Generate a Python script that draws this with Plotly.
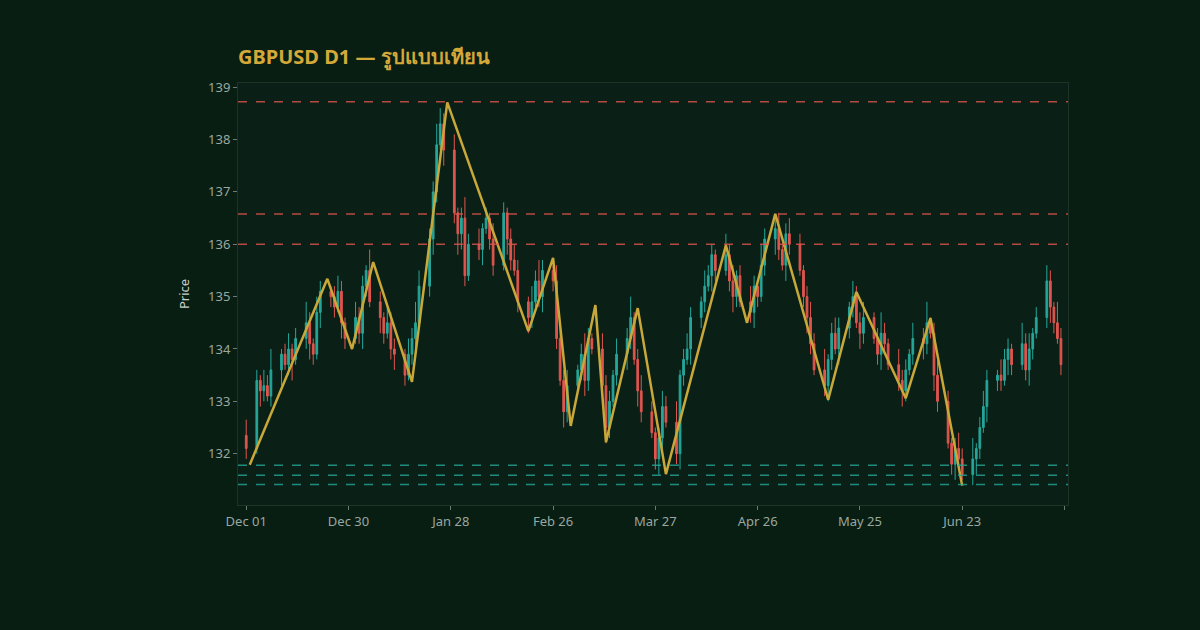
import plotly.graph_objects as go
import pandas as pd

closes = [132.1,
133.4,133.2,133.3,133.1,133.6, 133.9,133.7,134.0,133.8,134.2, 134.5,134.1,133.9,134.7,135.1,
135.0,134.8,135.1,134.5,134.2, 134.6,134.3,135.2,135.5,134.9, 134.6,134.3,134.5,134.0,133.9,
133.5,133.9,134.2,134.5,135.2, 136.1,137.0,137.9,138.3,137.8, 136.6,136.2,136.5,135.4,136.0,
135.9,136.3,136.5,136.1,135.6, 136.6,136.1,135.7,135.5,134.9, 134.6,134.9,135.3,135.0,135.5,
135.3,134.2,133.4,132.8,133.3, 133.6,133.9,133.4,134.2,134.0, 133.3,132.5,133.0,133.5,133.9,
134.2,134.6,133.8,133.2,132.8, 132.4,131.9,132.3,132.9,132.6, 132.0,133.5,133.8,134.0,134.6,
134.9,135.2,135.4,135.8,135.5, 135.8,135.3,135.0,135.4,134.9, 134.7,135.2,135.0,135.6,136.1,
136.3,135.9,135.6,136.2,136.0, 135.5,135.0,134.6,134.1,133.6, 133.3,133.8,134.3,134.0,134.4,
134.8,135.0,134.5,134.3,134.6, 134.2,133.9,134.3,134.1,133.7, 133.4,133.2,133.6,133.9,134.2,
134.1,134.5,134.3,133.5,133.0, 132.2,131.8,132.1,131.9,131.6, 131.9,132.1,132.5,132.9,133.4,
133.5,133.4,133.8,134.0,133.7, 134.1,133.6,134.0,134.3,134.6, 135.3,134.8,134.5,134.2,133.7]
first_open = 132.35
wick_up = [0.3,0.2,0.1,0.3,0.2,0.4,0.1,0.2,0.3,0.1,0.2,0.4,0.2,0.1,0.3,0.2,0.1,0.2,0.3,0.2,
0.1,0.3,0.2,0.2,0.1,0.4,0.2,0.1,0.3,0.2,0.2,0.1,0.3,0.2,0.4,0.3,0.2,0.2,0.4,0.3,
0.2,0.3,0.1,0.2,0.4,0.2,0.3,0.1,0.2,0.1,0.3,0.2,0.1,0.2,0.3,0.2,0.1,0.3,0.2,0.4,
0.2,0.1,0.3,0.2,0.2,0.3,0.1,0.2,0.4,0.2,0.1,0.3,0.2,0.2,0.1,0.3,0.2,0.4,0.1,0.2,
0.3,0.2,0.1,0.2,0.3,0.2,0.4,0.1,0.2,0.3,0.2,0.1,0.3,0.2,0.2,0.1,0.4,0.2,0.3,0.1,
0.2,0.3,0.2,0.1,0.4,0.2,0.2,0.3,0.1,0.2,0.3,0.2,0.1,0.2,0.3,0.2,0.4,0.1,0.2,0.3,
0.2,0.1,0.3,0.2,0.2,0.3,0.1,0.2,0.4,0.2,0.1,0.3,0.2,0.2,0.1,0.3,0.2,0.4,0.1,0.2,
0.3,0.2,0.1,0.2,0.3,0.2,0.4,0.1,0.2,0.3,0.2,0.1,0.3,0.2,0.2,0.1,0.4,0.2,0.3,0.1,
0.2,0.3,0.2,0.1,0.4,0.2]
wick_dn = [0.2,0.1,0.3,0.2,0.1,0.2,0.3,0.1,0.2,0.4,0.1,0.2,0.3,0.2,0.1,0.3,0.2,0.2,0.1,0.3,
0.2,0.1,0.2,0.3,0.2,0.1,0.3,0.2,0.1,0.2,0.3,0.2,0.1,0.2,0.3,0.1,0.2,0.3,0.2,0.1,
0.3,0.2,0.4,0.3,0.2,0.1,0.2,0.3,0.1,0.2,0.2,0.1,0.3,0.2,0.1,0.2,0.3,0.2,0.1,0.2,
0.3,0.2,0.2,0.1,0.3,0.2,0.1,0.2,0.3,0.2,0.1,0.2,0.3,0.2,0.1,0.2,0.3,0.2,0.1,0.3,
0.2,0.1,0.2,0.3,0.2,0.1,0.2,0.3,0.2,0.1,0.3,0.2,0.2,0.1,0.3,0.2,0.1,0.2,0.3,0.2,
0.1,0.2,0.3,0.2,0.1,0.2,0.3,0.2,0.1,0.3,0.2,0.1,0.2,0.3,0.2,0.1,0.2,0.3,0.2,0.1,
0.3,0.2,0.2,0.1,0.3,0.2,0.1,0.2,0.3,0.2,0.1,0.2,0.3,0.2,0.1,0.2,0.3,0.2,0.1,0.3,
0.2,0.1,0.2,0.3,0.2,0.1,0.2,0.3,0.2,0.1,0.3,0.2,0.2,0.1,0.3,0.2,0.1,0.2,0.3,0.2,
0.1,0.2,0.3,0.2,0.1,0.2]

zz_dates = ["2023-12-02","2023-12-24","2023-12-31","2024-01-06","2024-01-17","2024-01-27",
"2024-02-19","2024-02-26","2024-03-02","2024-03-09","2024-03-12","2024-03-21","2024-03-29",
"2024-04-15","2024-04-21","2024-04-29","2024-05-14","2024-05-22","2024-06-05","2024-06-12","2024-06-21"]
zz_prices = [131.79,135.34,134.0,135.66,133.37,138.71,134.34,135.74,132.53,134.84,132.22,
134.78,131.61,135.98,134.50,136.58,133.03,135.09,133.06,134.59,131.39]

resistance = [138.72,136.58,136.0]
support = [131.78,131.59,131.41]

tick_vals = ["2023-12-01","2023-12-30","2024-01-28","2024-02-26","2024-03-26","2024-04-24","2024-05-23","2024-06-21","2024-07-20"]
tick_text = ["Dec 01","Dec 30","Jan 28","Feb 26","Mar 27","Apr 26","May 25","Jun 23",""]

dates = pd.bdate_range("2023-12-01", periods=len(closes))
opens = [first_open] + closes[:-1]
highs = [max(o, c) + w for o, c, w in zip(opens, closes, wick_up)]
lows = [min(o, c) - w for o, c, w in zip(opens, closes, wick_dn)]

fig = go.Figure()
fig.add_trace(go.Candlestick(x=dates, open=opens, high=highs, low=lows, close=closes,
    increasing=dict(line=dict(color="#26a69a", width=1), fillcolor="#26a69a"),
    decreasing=dict(line=dict(color="#e0554f", width=1), fillcolor="#e0554f"),
    whiskerwidth=0, showlegend=False))
fig.add_trace(go.Scatter(x=zz_dates, y=zz_prices, mode="lines",
    line=dict(color="#c9a83a", width=2.5), showlegend=False))
for r in resistance:
    fig.add_hline(y=r, line=dict(color="#e0554f", width=1.5, dash="dash"), opacity=0.8)
for s in support:
    fig.add_hline(y=s, line=dict(color="#26a69a", width=1.5, dash="dash"), opacity=0.8)

fig.update_layout(
    width=1200, height=630,
    paper_bgcolor="#081e13", plot_bgcolor="#0a2016",
    margin=dict(l=238, r=132, t=83, b=125),
    title=dict(text="<b>GBPUSD D1 — รูปแบบเทียน</b>", x=0, xref="paper", y=0.92,
               font=dict(color="#d4a93a", size=20, family="Noto Sans, sans-serif")),
    font=dict(family="Noto Sans, sans-serif", color="#9aa8a0", size=13),
    xaxis=dict(rangeslider=dict(visible=False), type="date",
               range=["2023-11-28 16:00", "2024-07-21 00:00"],
               tickvals=tick_vals, ticktext=tick_text, ticks="outside", ticklen=4,
               tickcolor="#6b7a72", showgrid=False, zeroline=False,
               showline=True, linecolor="#1d3327", mirror=True),
    yaxis=dict(title=dict(text="Price", font=dict(color="#c8d0cc", size=13)), range=[131.02, 139.08],
               dtick=1, ticks="outside", ticklen=4, tickcolor="#6b7a72",
               showgrid=False, zeroline=False, showline=True, linecolor="#1d3327", mirror=True),
)
fig.write_html("out.html", config={"displayModeBar": False},
               post_script="document.body.style.margin='0';document.body.style.background='#081e13';")
